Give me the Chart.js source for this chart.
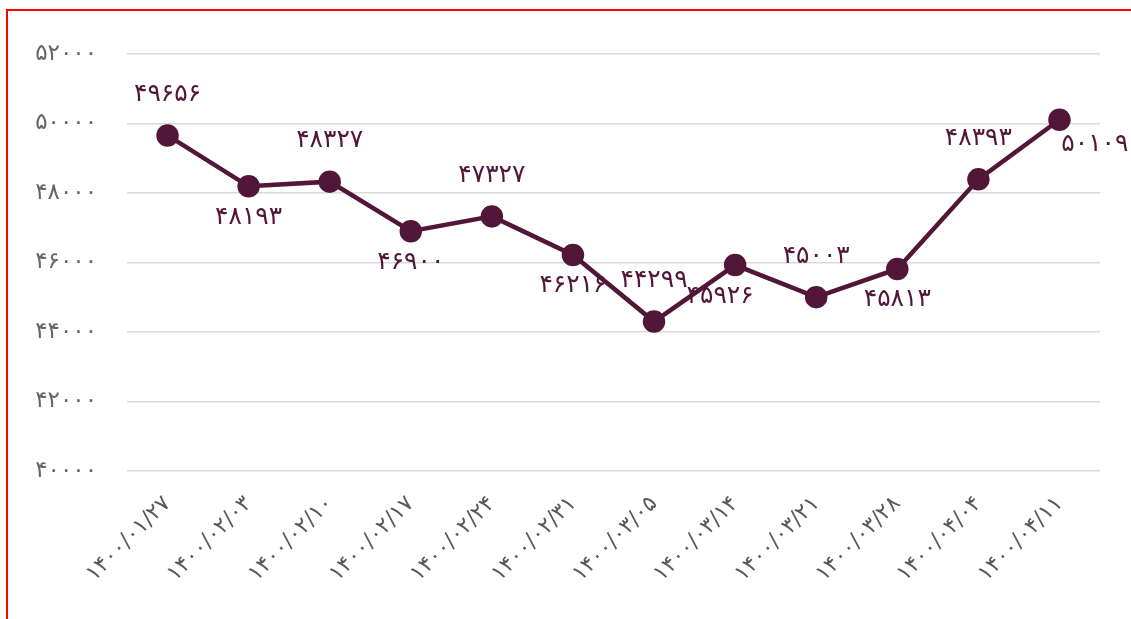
<!DOCTYPE html>
<html>
<head>
<meta charset="utf-8">
<script src="https://cdn.jsdelivr.net/npm/chart.js@4.4.1/dist/chart.umd.min.js"></script>
<style>
  html, body { margin: 0; padding: 0; background: #ffffff; overflow: hidden; }
  #wrap { position: absolute; left: 0; top: 0; width: 1131px; height: 619px; }
  #frame { position: absolute; left: 6px; top: 9px; width: 1140px; height: 640px;
           border-left: 2px solid #ff0000; border-top: 2px solid #ff0000; pointer-events: none; }
</style>
</head>
<body>
<div id="wrap">
  <canvas id="c" width="1131" height="619"></canvas>
  <div id="frame"></div>
</div>
<script>
// ---- data ----
const categories = [
  "۱۴۰۰/۰۱/۲۷", "۱۴۰۰/۰۲/۰۳", "۱۴۰۰/۰۲/۱۰", "۱۴۰۰/۰۲/۱۷", "۱۴۰۰/۰۲/۲۴", "۱۴۰۰/۰۲/۳۱",
  "۱۴۰۰/۰۳/۰۵", "۱۴۰۰/۰۳/۱۴", "۱۴۰۰/۰۳/۲۱", "۱۴۰۰/۰۳/۲۸", "۱۴۰۰/۰۴/۰۴", "۱۴۰۰/۰۴/۱۱"
];
const values = [49656, 48193, 48327, 46900, 47327, 46216, 44299, 45926, 45003, 45813, 48393, 50109];
const yTicks = [40000, 42000, 44000, 46000, 48000, 50000, 52000];
// label placement relative to each point (style only)
const labelPlacement = ["top","bottom","top","bottom","top","bottom","top","bottom-left","top","bottom","top","right"];

const faDigits = ['۰','۱','۲','۳','۴','۵','۶','۷','۸','۹'];
function toFa(n) { return String(n).replace(/[0-9]/g, d => faDigits[+d]); }

const lineColor = '#521638';

const dataLabelPlugin = {
  id: 'dataLabels',
  afterDatasetsDraw(chart) {
    const ctx = chart.ctx;
    const meta = chart.getDatasetMeta(0);
    ctx.save();
    ctx.font = '25px "DejaVu Sans", sans-serif';
    ctx.fillStyle = lineColor;
    ctx.textBaseline = 'middle';
    meta.data.forEach((pt, i) => {
      let x = pt.x, y = pt.y;
      ctx.textAlign = 'center';
      const p = labelPlacement[i];
      if (p === 'top') { y -= 41; }
      else if (p === 'bottom') { y += 31; }
      else if (p === 'bottom-left') { y += 31; x -= 15; }
      else if (p === 'right') { ctx.textAlign = 'right'; x += 69; y += 25; }
      ctx.fillText(toFa(chart.data.datasets[0].data[i]), x, y);
    });
    ctx.restore();
  }
};

new Chart(document.getElementById('c'), {
  type: 'line',
  data: {
    labels: categories,
    datasets: [{
      data: values,
      borderColor: lineColor,
      backgroundColor: lineColor,
      borderWidth: 4.5,
      pointRadius: 9,
      pointHoverRadius: 9,
      pointBackgroundColor: lineColor,
      pointBorderColor: lineColor,
      tension: 0,
      fill: false
    }]
  },
  options: {
    responsive: false,
    animation: false,
    devicePixelRatio: 1,
    layout: { padding: { left: 0, right: 31, top: 54, bottom: 0 } },
    plugins: { legend: { display: false }, tooltip: { enabled: false } },
    scales: {
      x: {
        offset: true,
        grid: { display: false, drawTicks: false },
        border: { display: false },
        ticks: {
          color: '#595959',
          font: { family: '"DejaVu Sans", sans-serif', size: 22 },
          minRotation: 45, maxRotation: 45,
          padding: 20,
          autoSkip: false
        },
        afterFit(axis) { axis.height = 148; }
      },
      y: {
        min: 40000, max: 52000,
        afterBuildTicks(axis) { axis.ticks = yTicks.map(v => ({ value: v })); },
        grid: { color: '#d9d9d9', lineWidth: 1.5, drawTicks: false },
        border: { display: false },
        ticks: {
          color: '#666666',
          font: { family: '"DejaVu Sans", sans-serif', size: 23 },
          padding: 30,
          callback: v => toFa(v)
        },
        afterFit(axis) { axis.width = 127; }
      }
    }
  },
  plugins: [dataLabelPlugin]
});
</script>
</body>
</html>
